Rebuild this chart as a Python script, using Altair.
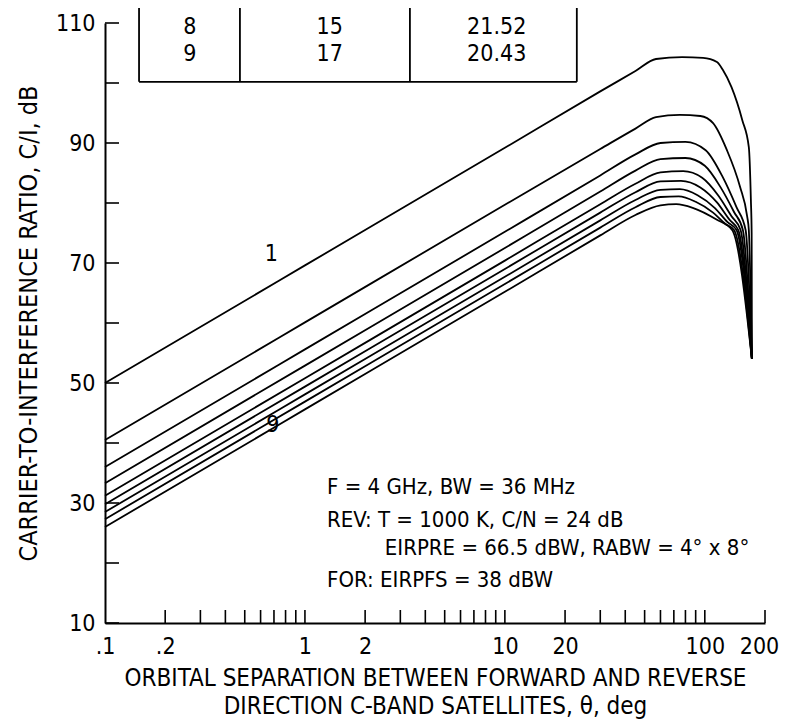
import altair as alt
import pandas as pd

FONT = "Liberation Sans Narrow, DejaVu Sans Condensed, Arial Narrow, sans-serif"

# ---------------- data ----------------
CURVE_IDS = [1, 2, 3, 4, 5, 6, 7, 8, 9]

THETA_1 = [0.1, 1, 10, 30, 45, 57, 77, 98, 115, 123, 136, 154, 166, 170, 171.5, 172]
CI_1 = [50.0, 69.6, 89.2, 98.6, 102.0, 104.0, 104.3, 104.2, 103.5, 102.2, 99.3, 93.8, 89.3, 80.5, 75.0, 54.0]

THETA_2 = [0.1, 1, 10, 30, 45, 57, 75, 95, 110, 129, 150, 163, 166, 172]
CI_2 = [40.5, 60.1, 79.7, 89.0, 92.4, 94.3, 94.7, 94.5, 93.3, 88.8, 82.7, 77.7, 75.5, 54.0]

THETA_3 = [0.1, 1, 10, 30, 45, 60, 80, 101, 123, 144, 160, 172]
CI_3 = [36.0, 55.6, 75.2, 84.6, 88.1, 90.0, 90.2, 88.8, 84.3, 79.3, 75.5, 54.0]

THETA_4 = [0.1, 1, 10, 30, 45, 60, 80, 100, 120, 140, 155, 172]
CI_4 = [33.3, 52.9, 72.5, 81.9, 85.4, 87.3, 87.5, 86.2, 82.6, 78.5, 75.5, 54.0]

THETA_5 = [0.1, 1, 10, 30, 45, 60, 78, 97, 117, 136, 151, 172]
CI_5 = [31.2, 50.8, 70.4, 79.8, 83.2, 85.1, 85.3, 84.2, 81.2, 77.8, 75.5, 54.0]

THETA_6 = [0.1, 1, 10, 30, 45, 60, 76, 95, 115, 133, 147, 172]
CI_6 = [29.8, 49.4, 69.0, 78.4, 81.8, 83.6, 83.7, 82.6, 80.1, 77.2, 75.5, 54.0]

THETA_7 = [0.1, 1, 10, 30, 45, 60, 75, 92, 112, 130, 144, 172]
CI_7 = [28.5, 48.1, 67.7, 77.1, 80.5, 82.2, 82.3, 81.3, 79.2, 76.8, 75.5, 54.0]

THETA_8 = [0.1, 1, 10, 30, 45, 60, 74, 90, 110, 127, 140, 172]
CI_8 = [27.3, 46.9, 66.5, 75.9, 79.3, 81.0, 81.1, 80.2, 78.4, 76.5, 75.5, 54.0]

THETA_9 = [0.1, 1, 10, 30, 45, 60, 72, 87, 115, 137, 172]
CI_9 = [26.0, 45.6, 65.2, 74.6, 78.0, 79.6, 79.8, 79.2, 77.2, 75.5, 54.0]

THETAS = [THETA_1, THETA_2, THETA_3, THETA_4, THETA_5, THETA_6, THETA_7, THETA_8, THETA_9]
CIS = [CI_1, CI_2, CI_3, CI_4, CI_5, CI_6, CI_7, CI_8, CI_9]

X_LABEL_VALUES = [0.1, 0.2, 1, 2, 10, 20, 100, 200]
X_LABEL_TEXT = [".1", ".2", "1", "2", "10", "20", "100", "200"]
X_TICK_VALUES = [0.2, 0.3, 0.4, 0.5, 0.6, 0.7, 0.8, 0.9, 1,
                 2, 3, 4, 5, 6, 7, 8, 9, 10,
                 20, 30, 40, 50, 60, 70, 80, 90, 100, 200]
Y_LABEL_VALUES = [10, 30, 50, 70, 90, 110]
Y_TICK_VALUES = [10, 20, 30, 40, 50, 60, 70, 80, 90, 100, 110]

TABLE_COL1 = ["7", "8", "9"]
TABLE_COL2 = ["13", "15", "17"]
TABLE_COL3 = ["22.46", "21.52", "20.43"]

CURVE_LABELS = ["1", "9"]
NOTE_LINES = ["F = 4 GHz,  BW = 36 MHz",
              "REV:  T = 1000 K,  C/N = 24 dB",
              "EIRPRE = 66.5 dBW,  RABW = 4\u00b0 x 8\u00b0",
              "FOR:  EIRPFS = 38 dBW"]

X_TITLE = ["ORBITAL SEPARATION BETWEEN FORWARD AND REVERSE",
           "DIRECTION C-BAND SATELLITES, \u03b8, deg"]
Y_TITLE = "CARRIER-TO-INTERFERENCE RATIO, C/I, dB"

# ---------------- layout (annotation anchors, in data units) ----------------
CURVE_LABEL_POS = [(0.68, 71.5), (0.69, 43.0)]
NOTE_POS = [(1.29, 32.7), (1.29, 27.2), (2.51, 22.5), (1.29, 17.2)]
TABLE_ROW_Y = [113.9, 109.4, 104.9]
TABLE_COL_X = [0.266, 1.33, 9.1]
TABLE_VLINES_X = [0.148, 0.473, 3.35, 22.9]
TABLE_BOTTOM = 100.2
TABLE_TOP = 130

# ---------------- build tables ----------------
rows = []
for cid, th, ci in zip(CURVE_IDS, THETAS, CIS):
    for i, (t, c) in enumerate(zip(th, ci)):
        rows.append({"curve": cid, "idx": i, "theta": t, "ci": c})
lines_df = pd.DataFrame(rows)

label_expr = ""
for v, s in zip(X_LABEL_VALUES, X_LABEL_TEXT):
    label_expr += f"abs(datum.value - {v}) < 1e-6 ? '{s}' : "
label_expr += "datum.label"

xscale = alt.Scale(type="log", domain=[0.1, 200], nice=False)
yscale = alt.Scale(domain=[10, 110], nice=False, zero=False)

xaxis = alt.Axis(values=X_LABEL_VALUES, labelExpr=label_expr, ticks=False, tickSize=0,
                 grid=False, domainColor="black", domainWidth=2,
                 labelFont=FONT, labelFontSize=23, labelColor="black", labelPadding=12,
                 labelFlush=False, labelOverlap=False,
                 labelOffset={"condition": {"test": "datum.value > 150", "value": -6}, "value": 0},
                 title=X_TITLE, titleFont=FONT, titleFontSize=24, titleFontWeight="normal",
                 titleColor="black", titlePadding=8, titleLineHeight=28)
yaxis = alt.Axis(values=Y_LABEL_VALUES, ticks=False, tickSize=0, grid=False,
                 domainColor="black", domainWidth=2,
                 labelFont=FONT, labelFontSize=23, labelColor="black", labelPadding=10,
                 labelFlush=False, labelOverlap=False,
                 title=Y_TITLE, titleFont=FONT, titleFontSize=25, titleFontWeight="normal",
                 titleColor="black", titlePadding=14)


def X(field):
    return alt.X(f"{field}:Q", scale=xscale, axis=xaxis)


def Y(field):
    return alt.Y(f"{field}:Q", scale=yscale, axis=yaxis)


lines = alt.Chart(lines_df).mark_line(color="black", strokeWidth=1.8,
                                      interpolate="monotone").encode(
    x=X("theta"), y=Y("ci"), detail="curve:N", order="idx:Q")

xticks = alt.Chart(pd.DataFrame({"theta": X_TICK_VALUES})).mark_rule(
    color="black", strokeWidth=1.6).encode(
    x=X("theta"), y=alt.value(600), y2=alt.value(587))

yticks = alt.Chart(pd.DataFrame({"ci": Y_TICK_VALUES})).mark_rule(
    color="black", strokeWidth=1.6).encode(
    y=Y("ci"), x=alt.value(0), x2=alt.value(14))

curve_lab_df = pd.DataFrame({"text": CURVE_LABELS,
                             "theta": [p[0] for p in CURVE_LABEL_POS],
                             "ci": [p[1] for p in CURVE_LABEL_POS]})
curve_labs = alt.Chart(curve_lab_df).mark_text(font=FONT, fontSize=23, color="black").encode(
    x=X("theta"), y=Y("ci"), text="text:N")

note_df = pd.DataFrame({"text": NOTE_LINES,
                        "theta": [p[0] for p in NOTE_POS],
                        "ci": [p[1] for p in NOTE_POS]})
notes = alt.Chart(note_df).mark_text(font=FONT, fontSize=22, color="black",
                                     align="left", baseline="middle").encode(
    x=X("theta"), y=Y("ci"), text="text:N")

trows = []
for r, (a, b, c) in enumerate(zip(TABLE_COL1, TABLE_COL2, TABLE_COL3)):
    for col, txt in enumerate([a, b, c]):
        trows.append({"text": txt, "theta": TABLE_COL_X[col], "ci": TABLE_ROW_Y[r]})
table_text = alt.Chart(pd.DataFrame(trows)).mark_text(
    font=FONT, fontSize=23, color="black", baseline="middle").encode(
    x=X("theta"), y=Y("ci"), text="text:N")

vl_df = pd.DataFrame({"theta": TABLE_VLINES_X,
                      "ci": [TABLE_BOTTOM] * len(TABLE_VLINES_X),
                      "ci2": [TABLE_TOP] * len(TABLE_VLINES_X)})
table_v = alt.Chart(vl_df).mark_rule(color="black", strokeWidth=1.8).encode(
    x=X("theta"), y=Y("ci"), y2="ci2:Q")

hl_df = pd.DataFrame({"theta": [TABLE_VLINES_X[0]], "theta2": [TABLE_VLINES_X[-1]],
                      "ci": [TABLE_BOTTOM]})
table_h = alt.Chart(hl_df).mark_rule(color="black", strokeWidth=1.8).encode(
    x=X("theta"), x2="theta2:Q", y=Y("ci"))

chart = alt.layer(lines, xticks, yticks, curve_labs, notes, table_text, table_v, table_h).properties(
    width=660, height=600,
    autosize=alt.AutoSizeParams(type="none"),
    padding={"left": 97, "top": 15, "right": 14, "bottom": 96},
    background="white",
).configure_view(stroke=None)

chart.save("out.html", embed_options={"renderer": "svg", "actions": False})
